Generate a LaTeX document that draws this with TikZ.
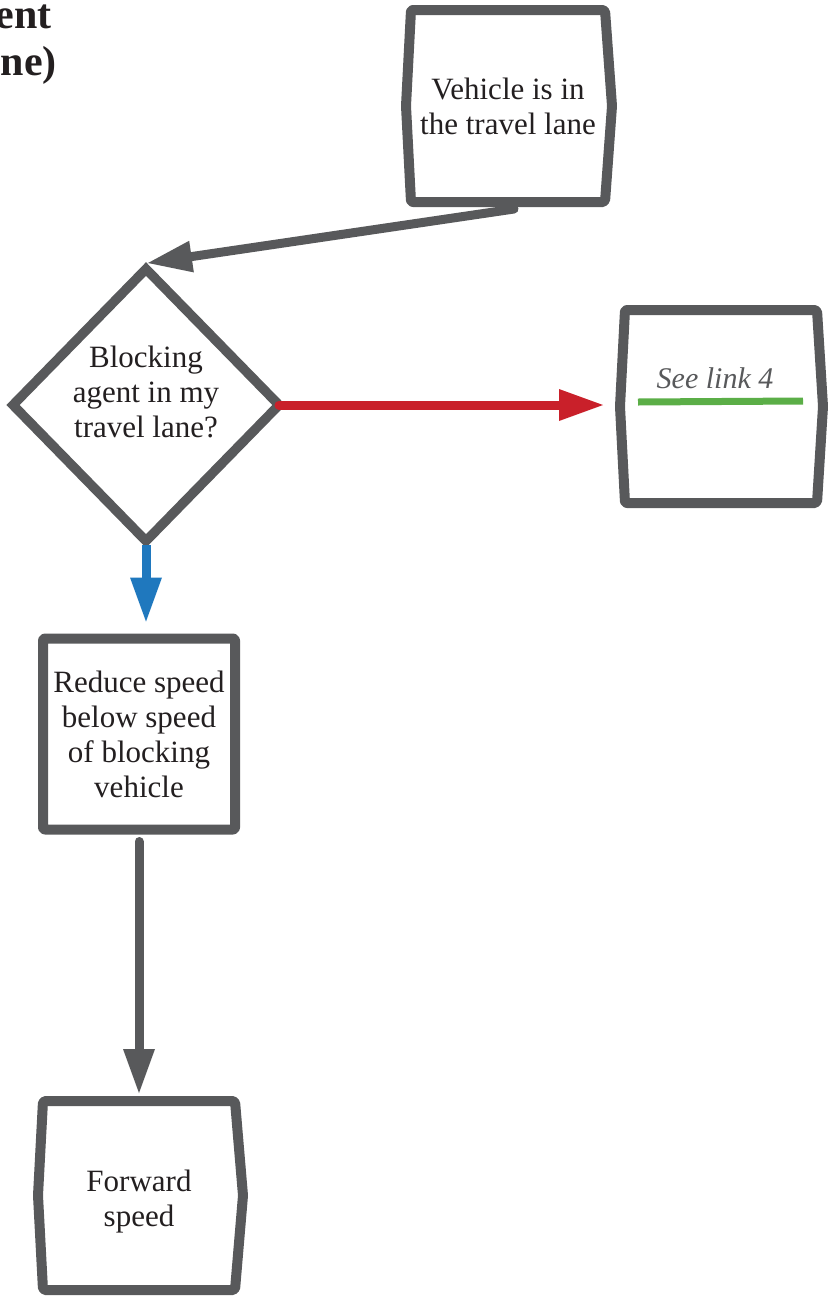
\documentclass[tikz,border=0pt]{standalone}
\usepackage{fontspec}
\setmainfont{Liberation Serif}
\usetikzlibrary{arrows.meta,shapes.geometric,calc}
\definecolor{edge}{HTML}{58595B}
\definecolor{ink}{HTML}{231F20}
\definecolor{redc}{HTML}{C9202A}
\definecolor{bluec}{HTML}{1F78BE}
\definecolor{greenc}{HTML}{5BAE47}
\begin{document}
\begin{tikzpicture}[x=1pt,y=-1pt,
  txt/.style={font=\fontsize{31}{35}\selectfont, align=center, text=ink},
  titletxt/.style={font=\fontsize{42}{47}\selectfont\bfseries, text=ink, anchor=base east, inner sep=0pt},
  boxnode/.style={inner sep=0pt, outer sep=0pt, minimum width=192pt, minimum height=192pt},
  outline/.style={draw=edge, line width=10pt, line join=round, rounded corners=2pt},
  conn/.style={line width=9pt, line cap=round, -{Triangle[length=44pt,width=32pt,line width=0pt]}},
]
\useasboundingbox (0,0) rectangle (833,1304);

% title fragments
\node[titletxt] (t1) at (52,28) {ent};
\node[titletxt] (t2) at (57,75) {ne)};

% nodes
\node[boxnode, txt, minimum width=194pt] (v) at (508,106) {Vehicle is in\\the travel lane};
\node[diamond, draw=edge, line width=9.5pt, minimum width=266pt, minimum height=272pt,
      inner sep=0pt, outer sep=0pt] (d) at (146,405) {};
\node[txt] (dq) at ($(d)+(0,-13)$) {Blocking\\agent in my\\travel lane?};
\node[boxnode, minimum height=193pt] (s) at (721,406.5) {};
\node[txt, font=\fontsize{30}{35}\selectfont\itshape, text=edge] (sl) at ($(s)+(-6,-28)$) {See link 4};
\node[boxnode, txt, minimum height=191pt] (r) at (139,734) {Reduce speed\\below speed\\of blocking\\vehicle};
\node[boxnode, minimum height=189pt] (f) at (139,1195.5) {};
\node[txt] (ft) at ($(f)+(0,6)$) {Forward\\speed};

% outlines
\draw[outline] (v.north west) -- (v.north east) -- ($(v.east)+(7,0)$) -- (v.south east)
  -- (v.south west) -- ($(v.west)+(-5,0)$) -- cycle;
\draw[outline] (s.north west) -- (s.north east) -- ($(s.east)+(6,0)$) -- (s.south east)
  -- (s.south west) -- ($(s.west)+(-5,0)$) -- cycle;
\draw[outline] (r.north west) rectangle (r.south east);
\draw[outline] (f.north west) -- (f.north east) -- ($(f.east)+(8,0)$) -- (f.south east)
  -- (f.south west) -- ($(f.west)+(-5,0)$) -- cycle;

% green underline
\draw[greenc, line width=7pt] ($(s)+(-83,-4.5)$) -- ($(s)+(82,-5.5)$);

% connectors
\draw[conn, color=edge] ($(v.south)+(6,7)$) -- ($(d.north)+(2,-6)$);
\draw[conn, color=redc] (d.east) -- ($(d.east -| s.west)+(-22,0)$);
\draw[conn, color=bluec, line cap=butt] ($(d.south)+(0,4)$) -- ($(d.south |- r.north)+(0,-17)$);
\draw[conn, color=edge] ($(r.south)+(0,12)$) -- ($(f.north)+(0,-8)$);
\end{tikzpicture}
\end{document}
